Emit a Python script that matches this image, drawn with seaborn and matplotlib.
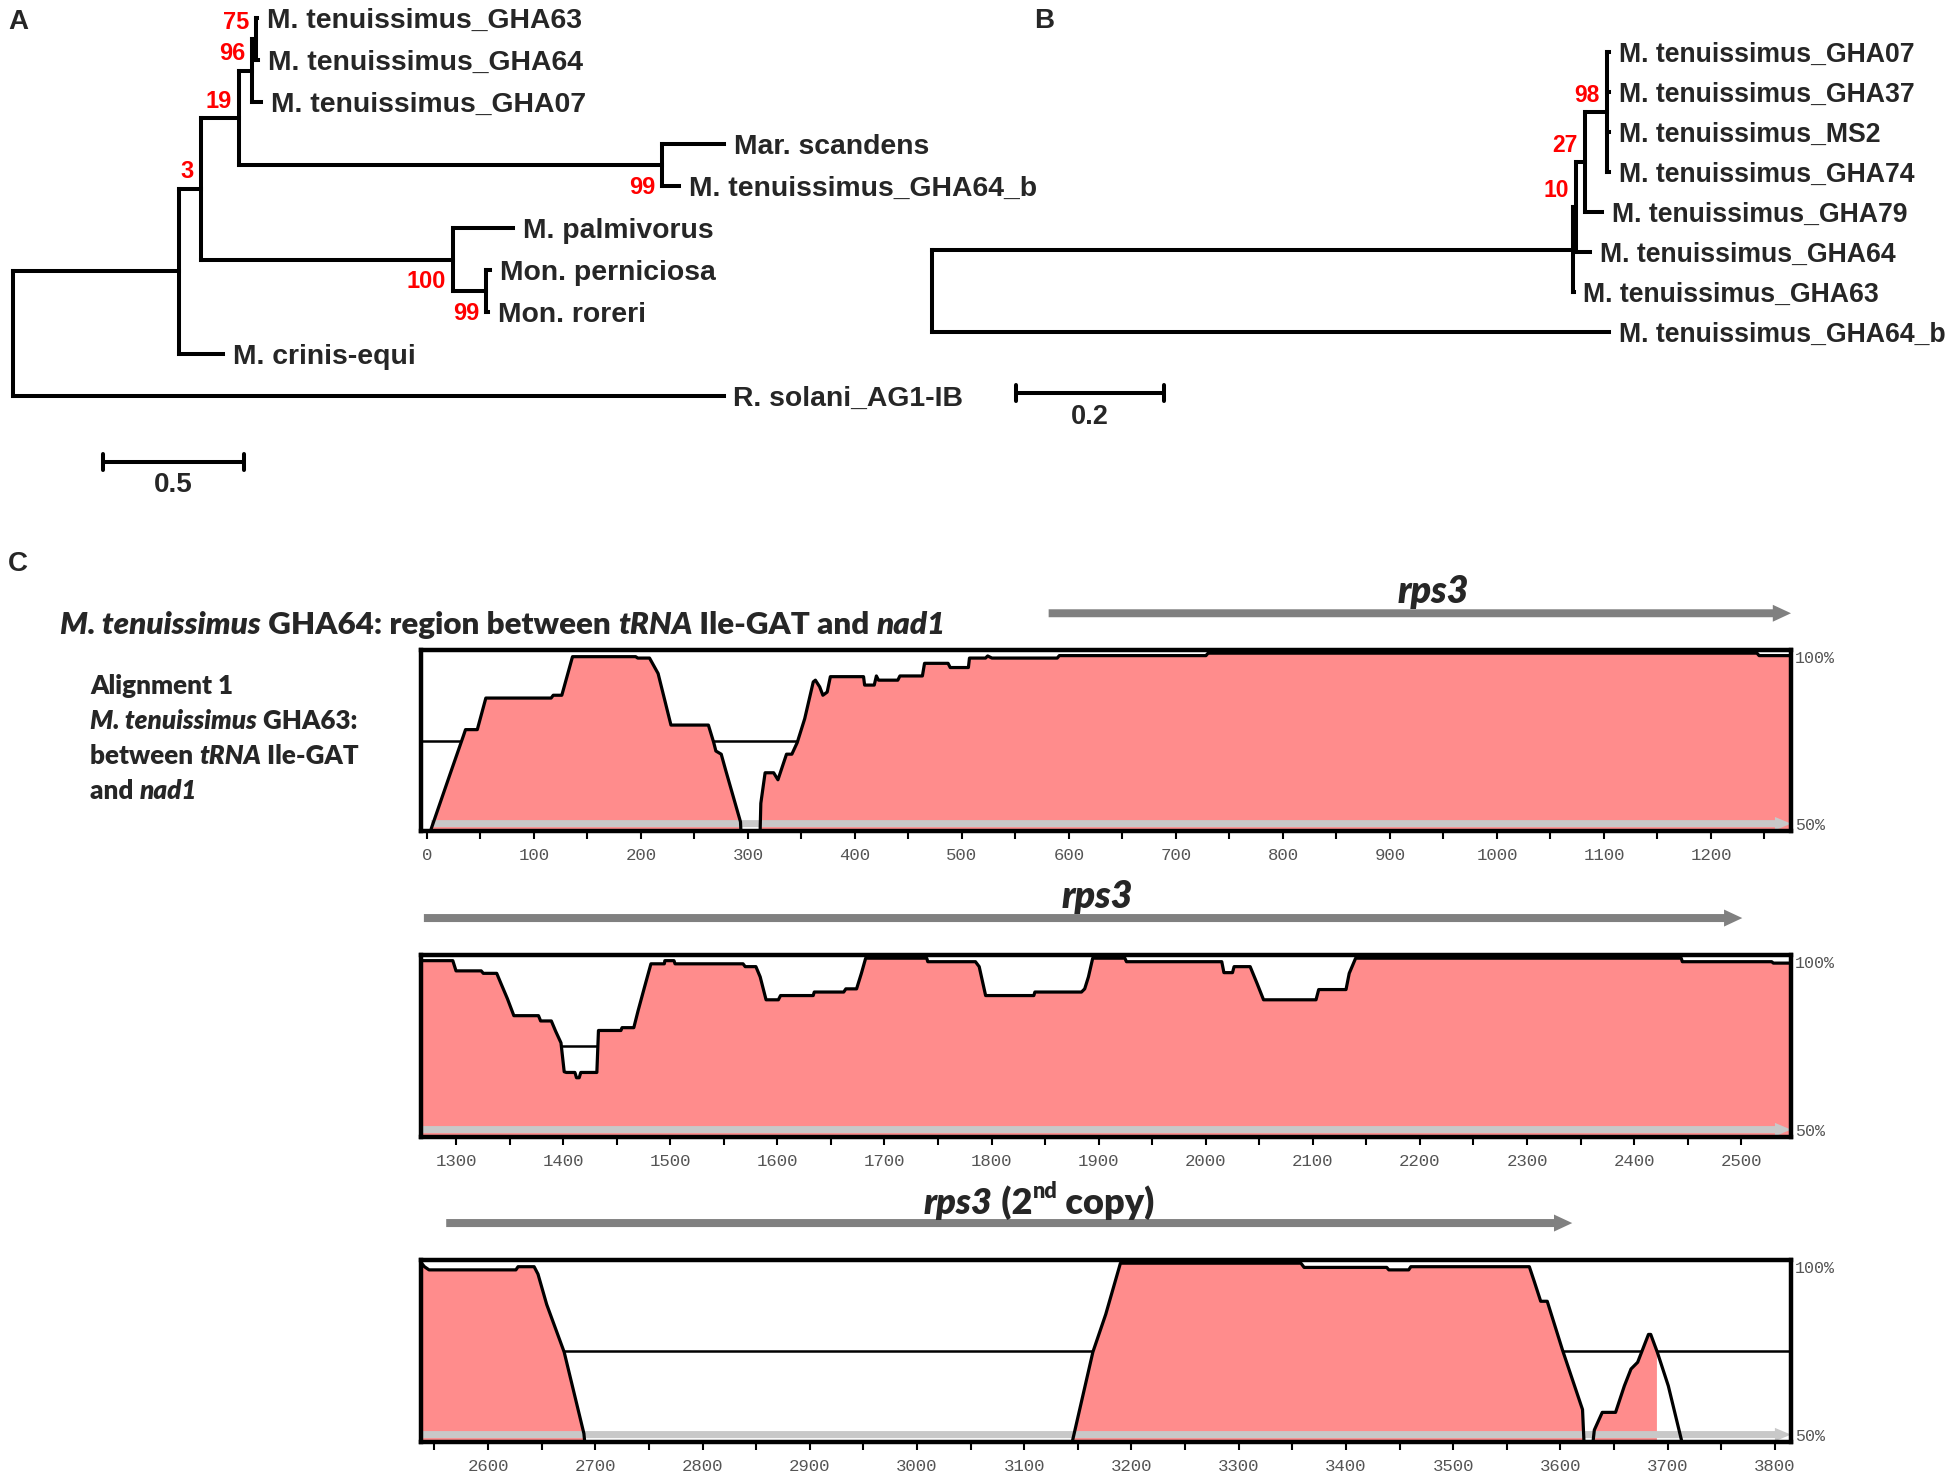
import numpy as np
import matplotlib
matplotlib.use("Agg")
import matplotlib.pyplot as plt
import matplotlib.transforms as mtransforms
from matplotlib.patches import FancyArrow
import seaborn as sns

W, H = 1955, 1471

# ---------- Data: phylogenies (label, branch length, bootstrap, children) ----------
TREE_A = ("", 0.0, None, [
    ("", 0.589, None, [
        ("", 0.078, ("3", "above"), [
            ("", 0.135, ("19", "above"), [
                ("", 0.046, ("96", "above"), [
                    ("", 0.014, ("75", "above"), [
                        ("M. tenuissimus_GHA63", 0.004, None, []),
                        ("M. tenuissimus_GHA64", 0.007, None, []),
                    ]),
                    ("M. tenuissimus_GHA07", 0.032, None, []),
                ]),
                ("", 1.50, ("99", "below"), [
                    ("Mar. scandens", 0.22, None, []),
                    ("M. tenuissimus_GHA64_b", 0.06, None, []),
                ]),
            ]),
            ("", 0.894, ("100", "below"), [
                ("M. palmivorus", 0.213, None, []),
                ("", 0.117, ("99", "below"), [
                    ("Mon. perniciosa", 0.014, None, []),
                    ("Mon. roreri", 0.007, None, []),
                ]),
            ]),
        ]),
        ("M. crinis-equi", 0.156, None, []),
    ]),
    ("R. solani_AG1-IB", 2.52, None, []),
])

TREE_B = ("", 0.0, None, [
    ("", 0.866, None, [
        ("", 0.004, ("10", "above"), [
            ("", 0.012, ("27", "above"), [
                ("", 0.030, ("98", "above"), [
                    ("M. tenuissimus_GHA07", 0.003, None, []),
                    ("M. tenuissimus_GHA37", 0.003, None, []),
                    ("M. tenuissimus_MS2", 0.003, None, []),
                    ("M. tenuissimus_GHA74", 0.003, None, []),
                ]),
                ("M. tenuissimus_GHA79", 0.024, None, []),
            ]),
            ("M. tenuissimus_GHA64", 0.019, None, []),
        ]),
        ("M. tenuissimus_GHA63", 0.001, None, []),
    ]),
    ("M. tenuissimus_GHA64_b", 0.915, None, []),
])

SCALE_A = 0.5
SCALE_B = 0.2

# ---------- Data: identity profiles (position, % identity) ----------
POS1 = [3, 4, 10, 22, 34, 36, 47, 55, 116, 118, 126, 136, 195, 197, 208, 216, 228, 263,
        268, 270, 275, 279, 293, 294, 311, 312, 316, 324, 328, 336, 341, 346, 353, 361,
        363, 367, 370, 374, 377, 408, 409, 418, 420, 422, 440, 442, 463, 465, 487, 489,
        506, 507, 522, 524, 528, 589, 591, 728, 730, 1243, 1245, 1274]
IDENT1 = [45, 50, 55.3, 65.9, 76.4, 78.2, 78.2, 87.2, 87.2, 88, 88, 99, 99, 98.6, 98.6, 94.2,
          79.5, 79.5, 74.5, 72.1, 71.2, 66.8, 51.9, 45, 45, 57.2, 65.9, 65.9, 63.9, 71.2,
          71.2, 74.5, 81.3, 91.8, 92.3, 90.4, 88, 88.9, 93.3, 93.3, 90.9, 90.9, 93.5, 92.3,
          92.3, 93.5, 93.5, 97.1, 97.1, 95.9, 95.9, 98.6, 98.6, 99.2, 98.6, 98.6, 99.3,
          99.3, 100, 100, 99.3, 99.3]
REGIONS1 = [(4, 294), (311, 1275)]

POS2 = [1267, 1297, 1300, 1323.5, 1325.5, 1338, 1342, 1348, 1354, 1377, 1379, 1389, 1393,
        1398, 1401, 1403, 1411, 1412.5, 1415, 1416.5, 1431.5, 1433, 1454, 1455, 1466, 1470,
        1476, 1482, 1494.5, 1495, 1503.5, 1504.5, 1568, 1570, 1580, 1584, 1589.5, 1601,
        1603, 1633.5, 1634.5, 1662, 1664, 1674, 1678.5, 1682.5, 1739.5, 1740.5, 1785,
        1788.5, 1794.5, 1839.5, 1840.5, 1884, 1887, 1890.5, 1894.5, 1924.5, 1926, 2015,
        2017, 2025, 2026.5, 2041.5, 2048, 2054, 2103, 2105.5, 2131, 2134, 2140, 2444,
        2445, 2528.5, 2530, 2546]
IDENT2 = [99.3, 99.3, 96.4, 96.4, 95.7, 95.7, 92.8, 88.5, 83.7, 83.7, 82.2, 82.2, 79.3,
          76, 67.8, 67.6, 67.6, 66.1, 66.1, 67.6, 67.6, 79.5, 79.5, 80.3, 80.3, 85.1,
          91.8, 98.4, 98.4, 99.3, 99.3, 98.4, 98.4, 97.6, 97.6, 94.7, 88.2, 88.2, 89.4,
          89.4, 90.4, 90.4, 91.3, 91.3, 95.7, 100, 100, 99, 99, 97.6, 89.4, 89.4, 90.4,
          90.4, 91.3, 94.7, 100, 100, 99, 99, 95.9, 95.9, 97.6, 97.6, 92.8, 88.2, 88.2,
          91.1, 91.1, 95.7, 100, 100, 99, 99, 98.6, 98.6]
REGIONS2 = [(1267, 2547)]

POS3 = [2538, 2540.7, 2545, 2626, 2628, 2643, 2646.6, 2654.7, 2671, 2689.4, 2691.5,
        3141.5, 3164, 3176, 3189.7, 3358, 3361, 3438, 3440, 3458.5, 3460.5, 3571,
        3575.4, 3581.6, 3587.7, 3602, 3620.6, 3622.6, 3628.8, 3631.6, 3639, 3651.4,
        3659.6, 3665.8, 3672, 3682.1, 3684.2, 3690.3, 3700.6, 3712.9, 3714, 3815]
IDENT3 = [100, 99, 98.1, 98.1, 99, 99, 96.9, 88.3, 74.8, 51.7, 45, 45, 74.8, 85.5, 100,
          100, 98.8, 98.8, 98.1, 98.1, 99, 99, 95, 89.2, 89.2, 75.3, 58.5, 45, 45, 52.7,
          57.7, 57.7, 65.2, 70, 71.9, 79.8, 79.8, 74.8, 65.2, 49.8, 45, 45]
REGIONS3 = [(2538, 2691.5), (3141.5, 3622.6), (3629, 3689.5)]

XLIM1, XLIM2, XLIM3 = (-5.6, 1274.8), (1267.3, 2546.5), (2537.5, 3815)
BASE1, BASE2, BASE3 = (4, 1274.8), (1267.3, 2546.5), (2537.5, 3815)
GENE1, GENE2, GENE3 = (581, 1274.8), (1270, 2501), (2561, 3611)

PINK = "#ff8c8c"
LW_TREE = 2.9

sns.set_theme(style="white")
plt.rcParams["font.family"] = ["Liberation Sans", "DejaVu Sans"]
CAL = ["Lato", "DejaVu Sans"]
CAL_W = "heavy"
MONO = ["Liberation Mono", "DejaVu Sans Mono"]

fig = plt.figure(figsize=(W / 100, H / 100), dpi=100)


def add_ax_px(left, top, width, height):
    return fig.add_axes([left / W, 1 - (top + height) / H, width / W, height / H])


def draw_tree(ax, node, x_parent, counter, tip_size, boot_size):
    label, bl, support, children = node
    x = x_parent + bl
    if not children:
        y = counter[0]
        counter[0] += 1
        ax.annotate(label, (x, y), xytext=(7, 0), textcoords="offset points",
                    ha="left", va="center_baseline", fontsize=tip_size, fontweight="bold")
    else:
        ys = [draw_tree(ax, c, x, counter, tip_size, boot_size) for c in children]
        y = (ys[0] + ys[-1]) / 2
        ax.plot([x, x], [ys[0], ys[-1]], color="black", lw=LW_TREE, solid_capstyle="projecting")
        if support:
            txt, side = support
            dy = 12 if side == "above" else -16
            ax.annotate(txt, (x, y), xytext=(-5, dy), textcoords="offset points",
                        ha="right", va="center", color="red", fontsize=boot_size,
                        fontweight="bold")
    if bl > 0:
        ax.plot([x_parent, x], [y, y], color="black", lw=LW_TREE, solid_capstyle="projecting")
    return y


def scale_bar(ax, x0, length, y, tick, label_dy, size):
    ax.plot([x0, x0 + length], [y, y], color="black", lw=LW_TREE)
    for xx in (x0, x0 + length):
        ax.plot([xx, xx], [y - tick, y + tick], color="black", lw=LW_TREE)
    ax.text(x0 + length / 2, y + label_dy, f"{length:g}", ha="center", va="center",
            fontsize=size, fontweight="bold")


# ---------- Panel A ----------
axA = add_ax_px(0, 0, 900, 500)
draw_tree(axA, TREE_A, 0.0, [0], 20.4, 17)
scale_bar(axA, 0.32, SCALE_A, 10.57, 0.19, 0.55, 20)
axA.set_xlim(-13 / 282, 887 / 282)
axA.set_ylim(482 / 42, -18 / 42)
axA.axis("off")

# ---------- Panel B ----------
axB = add_ax_px(900, 0, 1055, 500)
draw_tree(axB, TREE_B, 0.0, [0], 19.2, 16.5)
scale_bar(axB, 0.1135, SCALE_B, 8.525, 0.2, 0.6, 19.5)
axB.set_xlim(-32 / 740, 1023 / 740)
axB.set_ylim(448 / 40, -52 / 40)
axB.axis("off")


# ---------- Panel C: identity profiles ----------
def draw_profile(ax, pos, ident, regions, xlim, base, gene, gene_label):
    pos = np.array(pos, float)
    ident = np.array(ident, float)
    ax.axhline(75, color="black", lw=1.8, zorder=1)
    for a, b in regions:
        xs = np.concatenate([[a], pos[(pos > a) & (pos < b)], [b]])
        ys = np.interp(xs, pos, ident)
        ax.fill_between(xs, 40, ys, color=PINK, lw=0, zorder=2)
    ax.add_patch(FancyArrow(base[0], 51.4, base[1] - base[0], 0, width=2.0, head_width=3.8,
                            head_length=15, length_includes_head=True, color="#c8c8c8",
                            lw=0, zorder=2.5))
    sns.lineplot(x=pos, y=ident, ax=ax, color="black", linewidth=2.3, estimator=None,
                 sort=False, zorder=3)
    ax.set_xlim(xlim)
    ax.set_ylim(49.3, 100.9)
    ax.set_xlabel("")
    ax.set_ylabel("")
    for s in ax.spines.values():
        s.set_visible(True)
        s.set_linewidth(3.2)
        s.set_color("black")
        s.set_zorder(5)
    majors = np.arange(np.ceil(xlim[0] / 100) * 100, xlim[1] + 1e-9, 100)
    minors = np.arange(np.ceil((xlim[0] - 50) / 100) * 100 + 50, xlim[1], 100)
    ax.set_xticks(majors)
    ax.set_xticklabels([f"{int(t)}" for t in majors])
    ax.set_xticks(minors, minor=True)
    ax.set_yticks([])
    ax.tick_params(axis="x", which="both", bottom=True, direction="out", length=6, width=1.5,
                   color="black", labelsize=12.5, labelcolor="#555555", pad=6)
    for lab in ax.get_xticklabels():
        lab.set_family(MONO)
    tr_r = mtransforms.blended_transform_factory(ax.transAxes, ax.transData)
    ax.text(1.003, 98.4, "100%", transform=tr_r, ha="left", va="center", fontsize=12,
            family=MONO, color="#555555")
    ax.text(1.003, 51.0, "50%", transform=tr_r, ha="left", va="center", fontsize=12,
            family=MONO, color="#555555")
    tr_g = mtransforms.blended_transform_factory(ax.transData, ax.transAxes)
    ax.add_patch(FancyArrow(gene[0], 1.203, gene[1] - gene[0], 0, width=8 / 182,
                            head_width=17 / 182, head_length=17, length_includes_head=True,
                            color="#808080", lw=0, transform=tr_g, clip_on=False))
    mid = (gene[0] + gene[1]) / 2
    if gene_label is not None:
        ax.annotate(gene_label, (mid, 1.32), xycoords=tr_g, xytext=(10, 0),
                    textcoords="offset points", ha="center", va="center", fontsize=27,
                    family=CAL, fontweight=CAL_W, fontstyle="italic")
    return mid


ax1 = add_ax_px(421, 650, 1370, 181)
draw_profile(ax1, POS1, IDENT1, REGIONS1, XLIM1, BASE1, GENE1, "rps3")
ax2 = add_ax_px(421, 955, 1370, 182)
draw_profile(ax2, POS2, IDENT2, REGIONS2, XLIM2, BASE2, GENE2, "rps3")
ax3 = add_ax_px(421, 1260, 1370, 182)
mid3 = draw_profile(ax3, POS3, IDENT3, REGIONS3, XLIM3, BASE3, GENE3, None)

# ---------- overlay for free text (pixel coordinates) ----------
axT = fig.add_axes([0, 0, 1, 1])
axT.set_xlim(0, W)
axT.set_ylim(H, 0)
axT.axis("off")


def rich_text(x, y, pieces, size, ha="left"):
    arts, base, prev = [], None, None
    for txt, style, sup in pieces:
        kw = dict(fontsize=size * (0.6 if sup else 1), family=CAL, fontweight=CAL_W,
                  fontstyle=style)
        if prev is None:
            prev = axT.text(x, y, txt, ha="left", va="center_baseline", **kw)
            base = prev
        elif sup:
            prev = axT.annotate(txt, xy=(1, 0.5), xycoords=prev, ha="left", va="bottom", **kw)
        else:
            prev = axT.annotate(txt, xy=(1, 0), xycoords=(prev, base), ha="left",
                                va="bottom", **kw)
        arts.append(prev)
    if ha == "center":
        fig.canvas.draw()
        r = fig.canvas.get_renderer()
        width = arts[-1].get_window_extent(r).x1 - arts[0].get_window_extent(r).x0
        arts[0].set_x(x - width / 2)
    return arts


for letter, (lx, ly) in zip("ABC", [(18, 22), (1044, 21), (18, 564)]):
    axT.text(lx, ly, letter, ha="center", va="center", fontsize=20, fontweight="bold")

rich_text(60, 622, [("M. tenuissimus", "italic", False),
                    (" GHA64: region between ", "normal", False),
                    ("tRNA", "italic", False), (" Ile-GAT and ", "normal", False),
                    ("nad1", "italic", False)], 22.5)
align_lines = [
    [("Alignment 1", "normal", False)],
    [("M. tenuissimus", "italic", False), (" GHA63:", "normal", False)],
    [("between ", "normal", False), ("tRNA", "italic", False), (" Ile-GAT", "normal", False)],
    [("and ", "normal", False), ("nad1", "italic", False)],
]
for i, line in enumerate(align_lines):
    rich_text(90, 684 + 35 * i, line, 18.7)

gx, gy = ax3.transData.transform((mid3, 0))
rich_text(gx + 30, 1200, [("rps3", "italic", False), (" (2", "normal", False),
                          ("nd", "normal", True), (" copy)", "normal", False)], 26,
          ha="center")

fig.savefig("out.png", dpi=100)
